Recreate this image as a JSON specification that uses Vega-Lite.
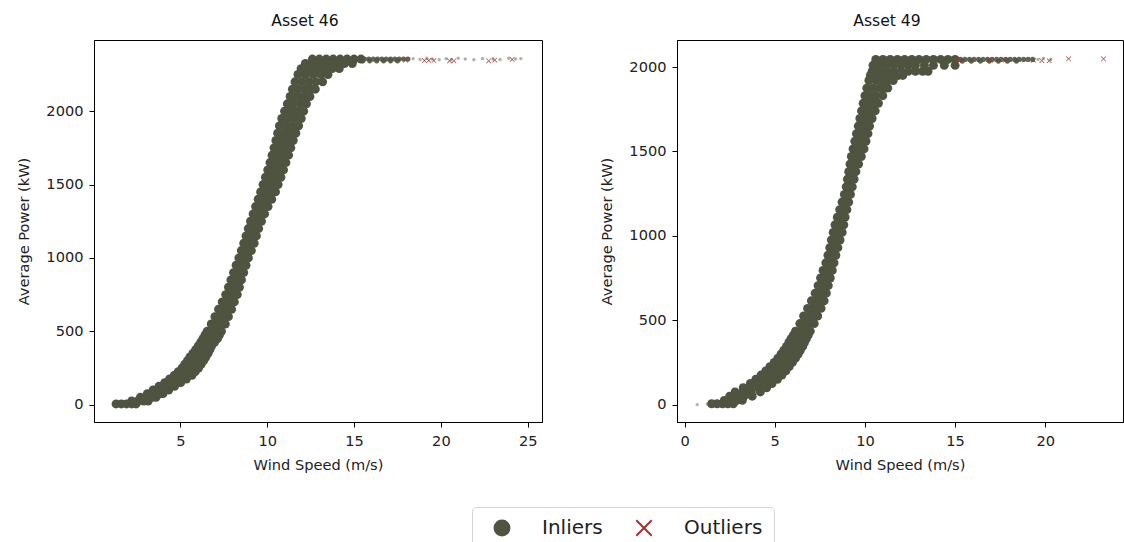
{
"$schema":"https://vega.github.io/schema/vega-lite/v6.json",
"padding":{"left":16,"top":13,"right":0,"bottom":0},
"config":{
 "font":"DejaVu Sans",
 "view":{"stroke":"#000","strokeWidth":1},
 "axis":{"grid":false,"domainColor":"#000","tickColor":"#000","tickSize":5,"labelFontSize":14.6,"titleFontSize":14.6,"titleFontWeight":"normal","labelColor":"#222","titleColor":"#222","labelPadding":6,"format":"d"},
 "axisX":{"titlePadding":10},
 "axisY":{"titlePadding":14},
 "title":{"fontSize":15.6,"fontWeight":"normal","color":"#111","offset":10,"dx":-13},
 "concat":{"spacing":56}
},
"datasets":{
"i46":[
{"w":1.3,"p":5},{"w":1.6,"p":5},{"w":1.9,"p":5},{"w":2.2,"p":5},{"w":2.45,"p":5},
{"w":2.2,"p":25},{"w":2.55,"p":25},{"w":2.9,"p":25},{"w":3.15,"p":25},
{"w":2.7,"p":50},{"w":3.05,"p":50},{"w":3.4,"p":50},{"w":3.6,"p":50},
{"w":3.1,"p":75},{"w":3.45,"p":75},{"w":3.8,"p":75},{"w":4.0,"p":75},
{"w":3.43,"p":100},{"w":3.8,"p":100},{"w":4.1,"p":100},{"w":4.33,"p":100},
{"w":3.77,"p":125},{"w":4.1,"p":125},{"w":4.4,"p":125},{"w":4.67,"p":125},
{"w":4.1,"p":150},{"w":4.4,"p":150},{"w":4.7,"p":150},{"w":5.02,"p":150},
{"w":4.38,"p":175},{"w":4.7,"p":175},{"w":5.0,"p":175},{"w":5.35,"p":175},
{"w":4.65,"p":200},{"w":5.0,"p":200},{"w":5.3,"p":200},{"w":5.67,"p":200},
{"w":4.88,"p":225},{"w":5.2,"p":225},{"w":5.5,"p":225},{"w":5.86,"p":225},
{"w":5.1,"p":250},{"w":5.4,"p":250},{"w":5.7,"p":250},{"w":6.05,"p":250},
{"w":5.25,"p":275},{"w":5.55,"p":275},{"w":5.9,"p":275},{"w":6.2,"p":275},
{"w":5.41,"p":300},{"w":5.7,"p":300},{"w":6.0,"p":300},{"w":6.34,"p":300},
{"w":5.55,"p":325},{"w":5.85,"p":325},{"w":6.15,"p":325},{"w":6.47,"p":325},
{"w":5.72,"p":350},{"w":6.0,"p":350},{"w":6.3,"p":350},{"w":6.6,"p":350},
{"w":5.88,"p":375},{"w":6.15,"p":375},{"w":6.42,"p":375},{"w":6.7,"p":375},
{"w":6.03,"p":400},{"w":6.3,"p":400},{"w":6.55,"p":400},{"w":6.8,"p":400},
{"w":6.17,"p":425},{"w":6.45,"p":425},{"w":6.7,"p":425},{"w":6.97,"p":425},
{"w":6.3,"p":450},{"w":6.6,"p":450},{"w":6.85,"p":450},{"w":7.14,"p":450},
{"w":6.42,"p":475},{"w":6.7,"p":475},{"w":6.98,"p":475},{"w":7.25,"p":475},
{"w":6.54,"p":500},{"w":6.8,"p":500},{"w":7.1,"p":500},{"w":7.37,"p":500},
{"w":6.78,"p":550},{"w":7.05,"p":550},{"w":7.3,"p":550},{"w":7.59,"p":550},
{"w":6.99,"p":600},{"w":7.25,"p":600},{"w":7.5,"p":600},{"w":7.77,"p":600},
{"w":7.2,"p":650},{"w":7.45,"p":650},{"w":7.7,"p":650},{"w":7.95,"p":650},
{"w":7.41,"p":700},{"w":7.65,"p":700},{"w":7.9,"p":700},{"w":8.11,"p":700},
{"w":7.61,"p":750},{"w":7.85,"p":750},{"w":8.05,"p":750},{"w":8.28,"p":750},
{"w":7.77,"p":800},{"w":8.0,"p":800},{"w":8.2,"p":800},{"w":8.4,"p":800},
{"w":7.91,"p":850},{"w":8.12,"p":850},{"w":8.32,"p":850},{"w":8.52,"p":850},
{"w":8.06,"p":900},{"w":8.26,"p":900},{"w":8.45,"p":900},{"w":8.65,"p":900},
{"w":8.21,"p":950},{"w":8.4,"p":950},{"w":8.6,"p":950},{"w":8.78,"p":950},
{"w":8.37,"p":1000},{"w":8.56,"p":1000},{"w":8.74,"p":1000},{"w":8.92,"p":1000},
{"w":8.51,"p":1050},{"w":8.7,"p":1050},{"w":8.9,"p":1050},{"w":9.09,"p":1050},
{"w":8.65,"p":1100},{"w":8.85,"p":1100},{"w":9.05,"p":1100},{"w":9.25,"p":1100},
{"w":8.78,"p":1150},{"w":8.98,"p":1150},{"w":9.18,"p":1150},{"w":9.38,"p":1150},
{"w":8.91,"p":1200},{"w":9.11,"p":1200},{"w":9.31,"p":1200},{"w":9.51,"p":1200},
{"w":9.04,"p":1250},{"w":9.25,"p":1250},{"w":9.46,"p":1250},{"w":9.67,"p":1250},
{"w":9.19,"p":1300},{"w":9.4,"p":1300},{"w":9.62,"p":1300},{"w":9.85,"p":1300},
{"w":9.33,"p":1350},{"w":9.57,"p":1350},{"w":9.8,"p":1350},{"w":10.05,"p":1350},
{"w":9.48,"p":1400},{"w":9.73,"p":1400},{"w":10.0,"p":1400},{"w":10.26,"p":1400},
{"w":9.62,"p":1450},{"w":9.9,"p":1450},{"w":10.2,"p":1450},{"w":10.48,"p":1450},
{"w":9.76,"p":1500},{"w":10.05,"p":1500},{"w":10.35,"p":1500},{"w":10.63,"p":1500},
{"w":9.9,"p":1550},{"w":10.2,"p":1550},{"w":10.5,"p":1550},{"w":10.79,"p":1550},
{"w":10.03,"p":1600},{"w":10.33,"p":1600},{"w":10.64,"p":1600},{"w":10.94,"p":1600},
{"w":10.16,"p":1650},{"w":10.46,"p":1650},{"w":10.77,"p":1650},{"w":11.08,"p":1650},
{"w":10.28,"p":1700},{"w":10.6,"p":1700},{"w":10.91,"p":1700},{"w":11.23,"p":1700},
{"w":10.39,"p":1750},{"w":10.7,"p":1750},{"w":11.03,"p":1750},{"w":11.36,"p":1750},
{"w":10.5,"p":1800},{"w":10.83,"p":1800},{"w":11.17,"p":1800},{"w":11.5,"p":1800},
{"w":10.6,"p":1850},{"w":10.95,"p":1850},{"w":11.3,"p":1850},{"w":11.65,"p":1850},
{"w":10.7,"p":1900},{"w":11.07,"p":1900},{"w":11.44,"p":1900},{"w":11.81,"p":1900},
{"w":10.84,"p":1950},{"w":11.2,"p":1950},{"w":11.58,"p":1950},{"w":11.96,"p":1950},
{"w":11.0,"p":2000},{"w":11.35,"p":2000},{"w":11.72,"p":2000},{"w":12.1,"p":2000},
{"w":11.16,"p":2050},{"w":11.5,"p":2050},{"w":11.9,"p":2050},{"w":12.26,"p":2050},
{"w":11.32,"p":2100},{"w":11.7,"p":2100},{"w":12.08,"p":2100},{"w":12.46,"p":2100},
{"w":11.45,"p":2150},{"w":11.8,"p":2150},{"w":12.2,"p":2150},{"w":12.55,"p":2150},{"w":12.77,"p":2150},
{"w":11.6,"p":2200},{"w":12.0,"p":2200},{"w":12.4,"p":2200},{"w":12.8,"p":2200},{"w":13.19,"p":2200},
{"w":11.77,"p":2250},{"w":12.2,"p":2250},{"w":12.65,"p":2250},{"w":13.1,"p":2250},{"w":13.5,"p":2250},
{"w":11.95,"p":2290},{"w":12.4,"p":2290},{"w":12.85,"p":2290},{"w":13.3,"p":2290},{"w":13.75,"p":2290},{"w":14.15,"p":2290},
{"w":12.2,"p":2325},{"w":12.65,"p":2325},{"w":13.1,"p":2325},{"w":13.55,"p":2325},{"w":14.0,"p":2325},{"w":14.45,"p":2325},{"w":14.9,"p":2325},
{"w":12.6,"p":2355},{"w":13.0,"p":2355},{"w":13.4,"p":2355},{"w":13.8,"p":2355},{"w":14.2,"p":2355},{"w":14.6,"p":2355},{"w":15.0,"p":2355},{"w":15.4,"p":2355}
],
"m46":[
{"w":15.6,"p":2355},{"w":15.85,"p":2355},{"w":16.1,"p":2355},{"w":16.35,"p":2355},{"w":16.6,"p":2355},{"w":16.85,"p":2355},{"w":17.1,"p":2355},{"w":17.35,"p":2355},{"w":17.6,"p":2355},{"w":17.85,"p":2355},{"w":18.1,"p":2355},
{"w":15.5,"p":2343},{"w":15.9,"p":2343},{"w":16.3,"p":2343},{"w":16.7,"p":2343},{"w":17.1,"p":2343},{"w":17.5,"p":2343}
],
"t46":[
{"w":18.4,"p":2358},{"w":18.8,"p":2352},{"w":19.2,"p":2360},{"w":19.5,"p":2355},{"w":19.9,"p":2350},{"w":20.3,"p":2358},{"w":20.6,"p":2352},{"w":21.0,"p":2360},{"w":21.4,"p":2355},{"w":21.9,"p":2350},{"w":22.4,"p":2358},{"w":23.0,"p":2356},{"w":23.4,"p":2352},{"w":23.9,"p":2360},{"w":24.3,"p":2355},{"w":24.6,"p":2358}
],
"o46":[
{"w":17.97,"p":2348},{"w":19.05,"p":2345},{"w":19.3,"p":2345},{"w":19.6,"p":2345},{"w":20.5,"p":2343},{"w":20.75,"p":2343},{"w":22.75,"p":2343},{"w":23.1,"p":2348},{"w":24.1,"p":2352}
],
"i49":[
{"w":1.5,"p":5},{"w":1.8,"p":5},{"w":2.1,"p":5},{"w":2.4,"p":5},{"w":2.7,"p":5},
{"w":2.2,"p":25},{"w":2.55,"p":25},{"w":2.9,"p":25},{"w":3.2,"p":25},
{"w":2.5,"p":50},{"w":2.9,"p":50},{"w":3.3,"p":50},{"w":3.75,"p":50},
{"w":2.8,"p":75},{"w":3.25,"p":75},{"w":3.7,"p":75},{"w":4.2,"p":75},
{"w":3.25,"p":100},{"w":3.65,"p":100},{"w":4.1,"p":100},{"w":4.55,"p":100},
{"w":3.65,"p":125},{"w":4.05,"p":125},{"w":4.45,"p":125},{"w":4.85,"p":125},
{"w":3.95,"p":150},{"w":4.35,"p":150},{"w":4.75,"p":150},{"w":5.15,"p":150},
{"w":4.24,"p":175},{"w":4.6,"p":175},{"w":5.0,"p":175},{"w":5.4,"p":175},
{"w":4.5,"p":200},{"w":4.85,"p":200},{"w":5.25,"p":200},{"w":5.62,"p":200},
{"w":4.73,"p":225},{"w":5.1,"p":225},{"w":5.45,"p":225},{"w":5.8,"p":225},
{"w":4.97,"p":250},{"w":5.3,"p":250},{"w":5.65,"p":250},{"w":5.98,"p":250},
{"w":5.17,"p":275},{"w":5.5,"p":275},{"w":5.85,"p":275},{"w":6.15,"p":275},
{"w":5.35,"p":300},{"w":5.68,"p":300},{"w":6.0,"p":300},{"w":6.3,"p":300},
{"w":5.5,"p":322},{"w":5.82,"p":322},{"w":6.12,"p":322},{"w":6.42,"p":322},
{"w":5.65,"p":345},{"w":5.95,"p":345},{"w":6.25,"p":345},{"w":6.55,"p":345},
{"w":5.78,"p":368},{"w":6.08,"p":368},{"w":6.38,"p":368},{"w":6.65,"p":368},
{"w":5.9,"p":390},{"w":6.2,"p":390},{"w":6.5,"p":390},{"w":6.75,"p":390},
{"w":6.03,"p":412},{"w":6.32,"p":412},{"w":6.6,"p":412},{"w":6.86,"p":412},
{"w":6.15,"p":435},{"w":6.45,"p":435},{"w":6.72,"p":435},{"w":6.97,"p":435},
{"w":6.39,"p":480},{"w":6.67,"p":480},{"w":6.93,"p":480},{"w":7.19,"p":480},
{"w":6.6,"p":525},{"w":6.88,"p":525},{"w":7.13,"p":525},{"w":7.38,"p":525},
{"w":6.82,"p":570},{"w":7.08,"p":570},{"w":7.32,"p":570},{"w":7.57,"p":570},
{"w":7.03,"p":615},{"w":7.28,"p":615},{"w":7.52,"p":615},{"w":7.74,"p":615},
{"w":7.24,"p":660},{"w":7.47,"p":660},{"w":7.67,"p":660},{"w":7.86,"p":660},
{"w":7.4,"p":705},{"w":7.6,"p":705},{"w":7.8,"p":705},{"w":7.97,"p":705},
{"w":7.54,"p":750},{"w":7.73,"p":750},{"w":7.91,"p":750},{"w":8.08,"p":750},
{"w":7.68,"p":795},{"w":7.86,"p":795},{"w":8.03,"p":795},{"w":8.19,"p":795},
{"w":7.83,"p":840},{"w":7.99,"p":840},{"w":8.14,"p":840},{"w":8.29,"p":840},
{"w":7.95,"p":885},{"w":8.1,"p":885},{"w":8.25,"p":885},{"w":8.39,"p":885},
{"w":8.05,"p":930},{"w":8.2,"p":930},{"w":8.35,"p":930},{"w":8.5,"p":930},
{"w":8.14,"p":975},{"w":8.3,"p":975},{"w":8.46,"p":975},{"w":8.62,"p":975},
{"w":8.24,"p":1020},{"w":8.4,"p":1020},{"w":8.57,"p":1020},{"w":8.74,"p":1020},
{"w":8.34,"p":1065},{"w":8.5,"p":1065},{"w":8.67,"p":1065},{"w":8.83,"p":1065},
{"w":8.47,"p":1110},{"w":8.62,"p":1110},{"w":8.76,"p":1110},{"w":8.9,"p":1110},
{"w":8.6,"p":1155},{"w":8.74,"p":1155},{"w":8.87,"p":1155},{"w":9.0,"p":1155},
{"w":8.73,"p":1200},{"w":8.86,"p":1200},{"w":8.98,"p":1200},{"w":9.1,"p":1200},
{"w":8.86,"p":1245},{"w":8.98,"p":1245},{"w":9.09,"p":1245},{"w":9.2,"p":1245},
{"w":8.96,"p":1290},{"w":9.08,"p":1290},{"w":9.19,"p":1290},{"w":9.3,"p":1290},
{"w":9.03,"p":1335},{"w":9.16,"p":1335},{"w":9.28,"p":1335},{"w":9.4,"p":1335},
{"w":9.1,"p":1380},{"w":9.23,"p":1380},{"w":9.37,"p":1380},{"w":9.5,"p":1380},
{"w":9.17,"p":1425},{"w":9.32,"p":1425},{"w":9.48,"p":1425},{"w":9.65,"p":1425},
{"w":9.25,"p":1470},{"w":9.42,"p":1470},{"w":9.6,"p":1470},{"w":9.8,"p":1470},
{"w":9.34,"p":1515},{"w":9.52,"p":1515},{"w":9.72,"p":1515},{"w":9.95,"p":1515},
{"w":9.44,"p":1560},{"w":9.63,"p":1560},{"w":9.83,"p":1560},{"w":10.06,"p":1560},
{"w":9.53,"p":1605},{"w":9.73,"p":1605},{"w":9.94,"p":1605},{"w":10.17,"p":1605},
{"w":9.63,"p":1650},{"w":9.83,"p":1650},{"w":10.04,"p":1650},{"w":10.26,"p":1650},
{"w":9.72,"p":1695},{"w":9.94,"p":1695},{"w":10.16,"p":1695},{"w":10.4,"p":1695},
{"w":9.81,"p":1740},{"w":10.05,"p":1740},{"w":10.3,"p":1740},{"w":10.57,"p":1740},
{"w":9.9,"p":1785},{"w":10.16,"p":1785},{"w":10.44,"p":1785},{"w":10.75,"p":1785},
{"w":10.0,"p":1830},{"w":10.3,"p":1830},{"w":10.62,"p":1830},{"w":10.99,"p":1830},
{"w":10.1,"p":1875},{"w":10.45,"p":1875},{"w":10.8,"p":1875},{"w":11.1,"p":1875},{"w":11.27,"p":1875},
{"w":10.22,"p":1920},{"w":10.6,"p":1920},{"w":10.95,"p":1920},{"w":11.3,"p":1920},{"w":11.57,"p":1920},
{"w":10.3,"p":1950},{"w":10.7,"p":1950},{"w":11.1,"p":1950},{"w":11.5,"p":1950},{"w":11.85,"p":1950},{"w":12.1,"p":1950},
{"w":10.4,"p":1975},{"w":10.8,"p":1975},{"w":11.2,"p":1975},{"w":11.6,"p":1975},{"w":12.0,"p":1975},{"w":12.4,"p":1975},{"w":12.8,"p":1975},{"w":13.2,"p":1975},{"w":13.5,"p":1975},
{"w":10.45,"p":2010},{"w":10.8,"p":2010},{"w":11.2,"p":2010},{"w":11.6,"p":2010},{"w":12.0,"p":2010},{"w":12.4,"p":2010},{"w":12.8,"p":2010},{"w":13.3,"p":2010},{"w":13.8,"p":2010},{"w":14.4,"p":2010},{"w":15.0,"p":2010},
{"w":10.6,"p":2045},{"w":11.0,"p":2045},{"w":11.4,"p":2045},{"w":11.8,"p":2045},{"w":12.2,"p":2045},{"w":12.6,"p":2045},{"w":13.0,"p":2045},{"w":13.4,"p":2045},{"w":13.8,"p":2045},{"w":14.2,"p":2045},{"w":14.6,"p":2045},{"w":15.0,"p":2045}
],
"m49":[
{"w":15.3,"p":2045},{"w":15.55,"p":2045},{"w":15.8,"p":2045},{"w":16.05,"p":2045},{"w":16.3,"p":2045},{"w":16.55,"p":2045},{"w":16.8,"p":2045},{"w":17.05,"p":2045},{"w":17.3,"p":2045},{"w":17.55,"p":2045},{"w":17.8,"p":2045},{"w":18.05,"p":2045},{"w":18.3,"p":2045},{"w":18.55,"p":2045},{"w":18.8,"p":2045},{"w":19.05,"p":2045},{"w":19.3,"p":2045},
{"w":15.4,"p":2035},{"w":15.9,"p":2035},{"w":16.4,"p":2035},{"w":16.9,"p":2035},{"w":17.4,"p":2035},{"w":17.9,"p":2035},{"w":18.4,"p":2035}
],
"t49":[
{"w":0.7,"p":0},{"w":1.26,"p":3},{"w":19.6,"p":2045},{"w":19.9,"p":2050},{"w":20.3,"p":2045}
],
"o49":[
{"w":15.2,"p":2040},{"w":16.96,"p":2040},{"w":17.78,"p":2040},{"w":19.35,"p":2040},{"w":19.81,"p":2038},{"w":20.22,"p":2037},{"w":21.29,"p":2048},{"w":23.23,"p":2048}
]
},
"hconcat":[
{"title":"Asset 46","width":448,"height":382,
 "layer":[
  {"data":{"name":"i46"},"mark":{"type":"point","filled":true,"size":80,"opacity":1},
   "encoding":{
    "x":{"field":"w","type":"quantitative","scale":{"domain":[0.03,25.82],"nice":false,"zero":false},"axis":{"values":[5,10,15,20,25],"title":"Wind Speed (m/s)"}},
    "y":{"field":"p","type":"quantitative","scale":{"domain":[-118,2485],"nice":false,"zero":false},"axis":{"values":[0,500,1000,1500,2000],"title":"Average Power (kW)"}},
    "color":{"datum":"Inliers","scale":{"domain":["Inliers","Outliers"],"range":["#4f5441","#9e3a35"]},
     "legend":{"orient":"none","legendX":378,"legendY":467,"direction":"horizontal","title":null,"labelFontSize":20,"labelColor":"#222","symbolSize":284,"symbolOpacity":1,"symbolStrokeWidth":0,"labelOffset":30,"columnPadding":22,"padding":11,"strokeColor":"#d5d5d5","fillColor":"#fff","cornerRadius":4,"symbolOffset":9,
      "encode":{"symbols":{"update":{"opacity":{"value":1},"fillOpacity":{"value":1}}}}}},
    "shape":{"datum":"Inliers","scale":{"domain":["Inliers","Outliers"],"range":["circle","M-1,-0.82L-0.82,-1L0,-0.18L0.82,-1L1,-0.82L0.18,0L1,0.82L0.82,1L0,0.18L-0.82,1L-1,0.82L-0.18,0Z"]},
     "legend":{"orient":"none","legendX":378,"legendY":467,"direction":"horizontal","title":null,"labelFontSize":20,"labelColor":"#222","symbolSize":284,"symbolOpacity":1,"symbolStrokeWidth":0,"labelOffset":30,"columnPadding":22,"padding":11,"strokeColor":"#d5d5d5","fillColor":"#fff","cornerRadius":4,"symbolOffset":9,
      "encode":{"symbols":{"update":{"opacity":{"value":1},"fillOpacity":{"value":1}}}}}}
   }},
  {"data":{"name":"m46"},"mark":{"type":"point","filled":true,"size":26,"opacity":0.9},
   "encoding":{"x":{"field":"w","type":"quantitative"},"y":{"field":"p","type":"quantitative"},"color":{"datum":"Inliers"},"shape":{"datum":"Inliers"}}},
  {"data":{"name":"t46"},"mark":{"type":"point","filled":true,"size":12,"opacity":0.45},
   "encoding":{"x":{"field":"w","type":"quantitative"},"y":{"field":"p","type":"quantitative"},"color":{"datum":"Inliers"},"shape":{"datum":"Inliers"}}},
  {"data":{"name":"o46"},"mark":{"type":"point","filled":true,"size":26,"opacity":1},
   "encoding":{"x":{"field":"w","type":"quantitative"},"y":{"field":"p","type":"quantitative"},"color":{"datum":"Outliers"},"shape":{"datum":"Outliers"}}}
 ]},
{"title":"Asset 49","width":446,"height":382,
 "layer":[
  {"data":{"name":"i49"},"mark":{"type":"point","filled":true,"size":80,"opacity":1},
   "encoding":{
    "x":{"field":"w","type":"quantitative","scale":{"domain":[-0.42,24.31],"nice":false,"zero":false},"axis":{"values":[0,5,10,15,20],"title":"Wind Speed (m/s)"}},
    "y":{"field":"p","type":"quantitative","scale":{"domain":[-103,2160],"nice":false,"zero":false},"axis":{"values":[0,500,1000,1500,2000],"title":"Average Power (kW)"}},
    "color":{"datum":"Inliers"},
    "shape":{"datum":"Inliers"}
   }},
  {"data":{"name":"m49"},"mark":{"type":"point","filled":true,"size":26,"opacity":0.9},
   "encoding":{"x":{"field":"w","type":"quantitative"},"y":{"field":"p","type":"quantitative"},"color":{"datum":"Inliers"},"shape":{"datum":"Inliers"}}},
  {"data":{"name":"t49"},"mark":{"type":"point","filled":true,"size":12,"opacity":0.45},
   "encoding":{"x":{"field":"w","type":"quantitative"},"y":{"field":"p","type":"quantitative"},"color":{"datum":"Inliers"},"shape":{"datum":"Inliers"}}},
  {"data":{"name":"o49"},"mark":{"type":"point","filled":true,"size":26,"opacity":1},
   "encoding":{"x":{"field":"w","type":"quantitative"},"y":{"field":"p","type":"quantitative"},"color":{"datum":"Outliers"},"shape":{"datum":"Outliers"}}}
 ]}
],
"resolve":{"scale":{"x":"independent","y":"independent","color":"shared","shape":"shared"},"legend":{"color":"shared","shape":"shared"}}
}
